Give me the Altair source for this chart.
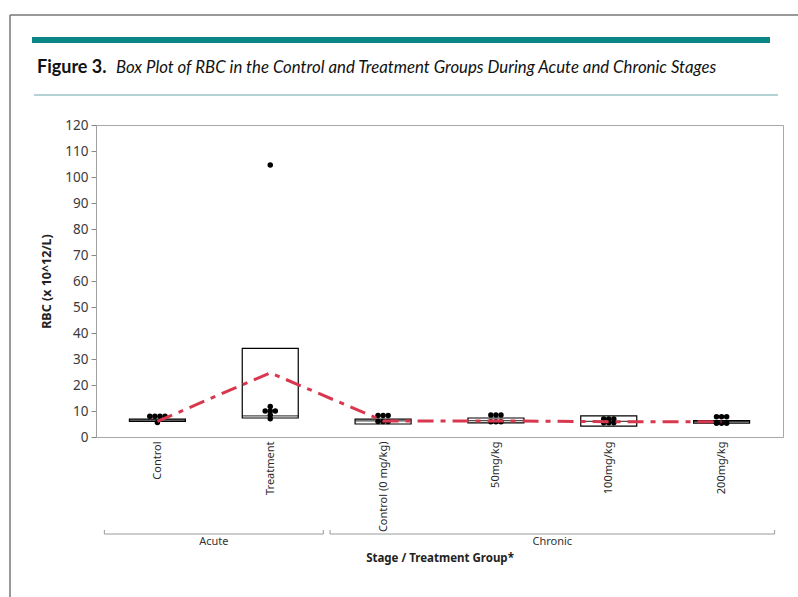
import json
import altair as alt
import pandas as pd

# Groups along the x axis, in display order
categories = ["Control", "Treatment", "Control (0 mg/kg)", "50mg/kg", "100mg/kg", "200mg/kg"]
stages = ["Acute", "Acute", "Chronic", "Chronic", "Chronic", "Chronic"]

# Box statistics (RBC, x 10^12/L)
q1 = [6.0, 7.3, 5.0, 5.4, 4.2, 5.3]
median = [6.5, 8.1, 6.2, 6.3, 6.0, 5.9]
q3 = [6.9, 34.1, 6.9, 7.3, 8.1, 6.3]
means = [6.0, 24.7, 6.2, 6.2, 5.9, 5.9]

# Individual observations per group
obs_control = [8.0, 8.0, 8.0, 8.0, 5.6]
obs_treatment = [11.7, 10.0, 10.0, 10.0, 8.5, 7.0, 104.6]
obs_control0 = [8.3, 8.3, 8.3, 6.0, 6.0, 6.0]
obs_50 = [8.5, 8.5, 8.5, 5.9, 5.9, 5.9]
obs_100 = [6.9, 6.9, 6.9, 5.5, 5.5, 5.5]
obs_200 = [7.8, 7.8, 7.8, 5.3, 5.3, 5.3]
observations = [obs_control, obs_treatment, obs_control0, obs_50, obs_100, obs_200]

# y axis tick values
y_ticks = [0, 10, 20, 30, 40, 50, 60, 70, 80, 90, 100, 110, 120]

FONT = "Noto Sans"
W, H = 687, 312
DOT_STEP = 0.045  # horizontal spacing of stacked dots, in category units

summary = pd.DataFrame({
    "idx": list(range(len(categories))),
    "group": categories,
    "stage": stages,
    "q1": q1, "median": median, "q3": q3, "mean": means,
})

# dot-plot layout: equal values are spread side by side around the group centre
rows = []
for i, vals in enumerate(observations):
    counts = {}
    for v in vals:
        counts[v] = counts.get(v, 0) + 1
    seen = {}
    for v in vals:
        k = seen.get(v, 0)
        seen[v] = k + 1
        slot = k - (counts[v] - 1) / 2
        rows.append({"group": categories[i], "idx": i + slot * DOT_STEP, "q1": v})
points = pd.DataFrame(rows)

# stage brackets below the axis
stage_rows = []
for s in dict.fromkeys(stages):
    ids = [i for i, g in enumerate(stages) if g == s]
    stage_rows.append({"stage": s, "idx": min(ids) - 0.5 + 0.03,
                       "end": max(ids) + 0.5 - 0.03, "mid": (min(ids) + max(ids)) / 2})
stage_df = pd.DataFrame(stage_rows)
stage_ends = pd.DataFrame({"idx": list(stage_df["idx"]) + list(stage_df["end"])})

label_expr = json.dumps(categories) + "[datum.value]"

x_scale = alt.Scale(domain=[-0.5, len(categories) - 0.5], nice=False, zero=False)
y_scale = alt.Scale(domain=[0, 120], nice=False)

x_axis = alt.Axis(
    values=list(range(len(categories))), labelExpr=label_expr, labelAngle=-90,
    labelAlign="right", labelBaseline="middle", labelPadding=4, ticks=False,
    grid=False, labelFontSize=11, labelColor="#2a2a2a", labelFont=FONT,
    labelOverlap=False, domain=False, title="Stage / Treatment Group*", titleFont=FONT,
    titleFontSize=11.5, titleFontWeight="bold", titleColor="#222222",
    titleY=121, titleBaseline="middle")
y_axis = alt.Axis(
    values=y_ticks, tickCount=len(y_ticks), labelOverlap=False, grid=False,
    tickSize=5, tickColor="#8a8a8a", domainColor="#a0a0a0", labelFontSize=13.5,
    labelColor="#3a3a3a", labelFont=FONT, labelPadding=3, title="RBC (x 10^12/L)",
    titleFont=FONT, titleFontSize=12.5, titleFontWeight="bold", titleColor="#222222",
    titleX=-50, titleY=H / 2, titleAngle=-90, titleBaseline="middle")

X = alt.X("idx:Q", scale=x_scale, axis=x_axis)
Y = alt.Y("q1:Q", scale=y_scale, axis=y_axis)

base = alt.Chart(summary)

boxes = base.mark_bar(size=56, fill="white", stroke="black", strokeWidth=1.2).encode(
    x=X, y=Y, y2="q3:Q")
medians = base.mark_tick(orient="horizontal", size=56, thickness=1.2, color="black").encode(
    x=X, y=alt.Y("median:Q", scale=y_scale, axis=y_axis))
dots = alt.Chart(points).mark_circle(size=30, color="black", opacity=1).encode(x=X, y=Y)
mean_line = base.mark_line(color="#d8384f", strokeWidth=3,
                           strokeDash=[16, 7, 5, 7]).encode(
    x=X, y=alt.Y("mean:Q", scale=y_scale, axis=y_axis))

brackets = alt.Chart(stage_df).mark_rule(color="#9a9a9a", strokeWidth=1).encode(
    x=X, x2="end:Q", y=alt.value(H + 97))
bracket_ends = alt.Chart(stage_ends).mark_rule(color="#9a9a9a", strokeWidth=1).encode(
    x=X, y=alt.value(H + 93), y2=alt.value(H + 97))
stage_text = alt.Chart(stage_df).mark_text(font=FONT, fontSize=11, color="#333333",
                                           baseline="middle").encode(
    x=alt.X("mid:Q", scale=x_scale, axis=x_axis), y=alt.value(H + 105), text="stage:N")

# header: frame, teal band, caption, rule
one = pd.DataFrame({"k": [0]})
hdr = alt.Chart(one)
frame_top = hdr.mark_rule(color="#777777", strokeWidth=1.5).encode(
    x=alt.value(-86), x2=alt.value(702), y=alt.value(-110))
frame_left = hdr.mark_rule(color="#777777", strokeWidth=1.5).encode(
    x=alt.value(-86), y=alt.value(-110), y2=alt.value(472))
band = hdr.mark_rule(color="#0b8587", strokeWidth=6).encode(
    x=alt.value(-64), x2=alt.value(674), y=alt.value(-85))
cap_rule = hdr.mark_rule(color="#6aa3ac", strokeWidth=1).encode(
    x=alt.value(-62), x2=alt.value(682), y=alt.value(-30))
cap_bold = hdr.mark_text(text="Figure 3.", font="Lato", fontSize=18, fontWeight="bold",
                         align="left", baseline="alphabetic", color="#111111").encode(
    x=alt.value(-59), y=alt.value(-52))
cap_ital = hdr.mark_text(
    text="Box Plot of RBC in the Control and Treatment Groups During Acute and Chronic Stages",
    font="Lato", fontSize=16.8, fontStyle="italic", align="left", baseline="alphabetic",
    color="#111111").encode(x=alt.value(20), y=alt.value(-52))

chart = alt.layer(
    boxes, medians, dots, mean_line, brackets, bracket_ends, stage_text,
    frame_top, frame_left, band, cap_rule, cap_bold, cap_ital,
).properties(
    width=W, height=H,
    padding={"left": 96, "top": 125, "right": 15, "bottom": 160},
    autosize=alt.AutoSizeParams(type="none"),
    background="white",
).configure_view(stroke="#a8a8a8", strokeWidth=1)

chart.save("out.html", embed_options={"renderer": "svg", "actions": False})
